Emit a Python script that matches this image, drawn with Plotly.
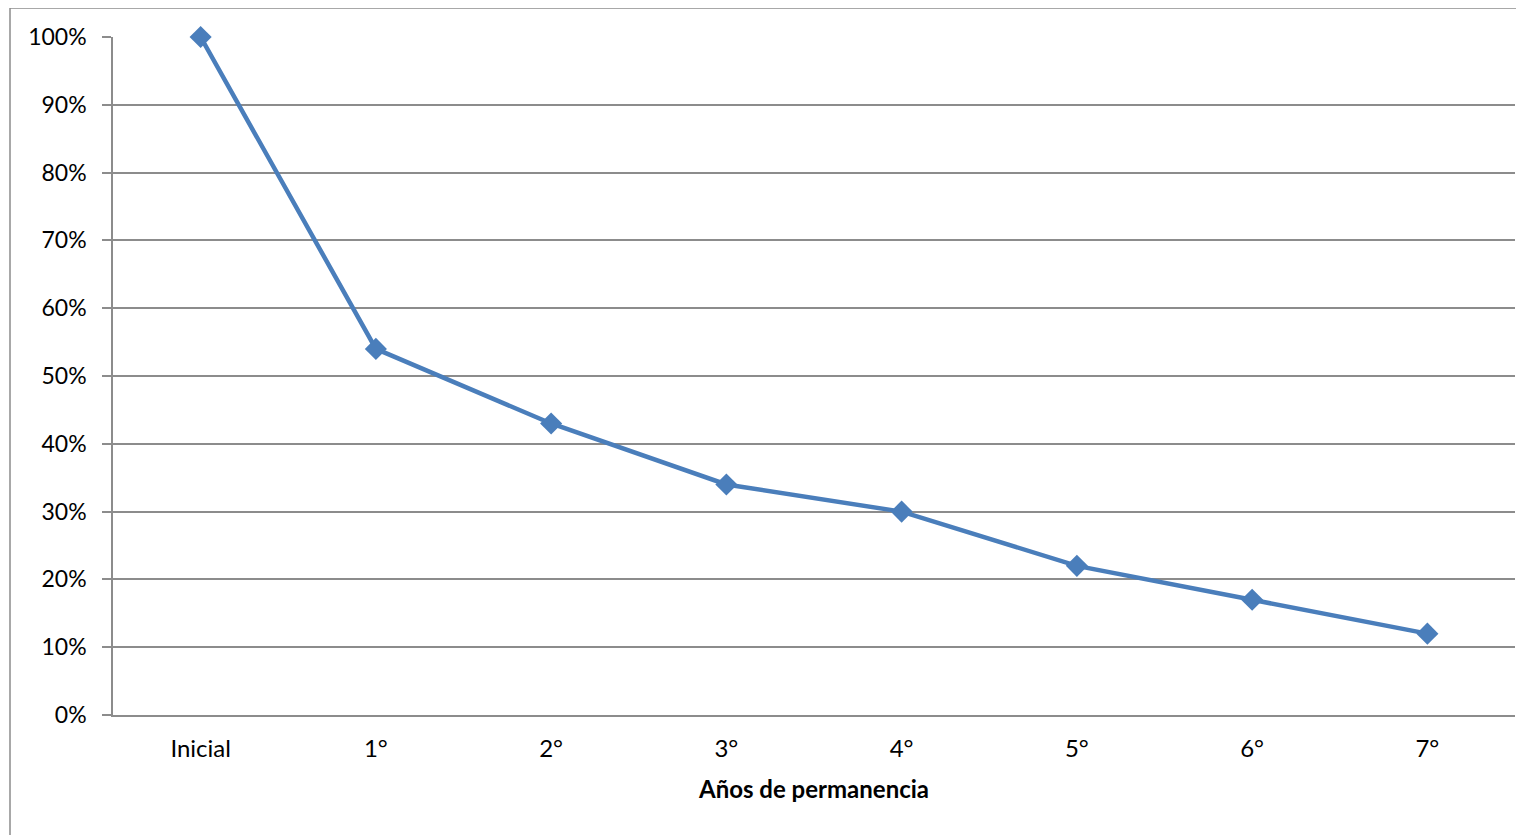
import plotly.graph_objects as go

categories = ["Inicial", "1°", "2°", "3°", "4°", "5°", "6°", "7°"]
values = [1.00, 0.54, 0.43, 0.34, 0.30, 0.22, 0.17, 0.12]
y_ticks = [0, 0.1, 0.2, 0.3, 0.4, 0.5, 0.6, 0.7, 0.8, 0.9, 1.0]
x_title = "Años de permanencia"

# page body has an 8px margin; figure placed at (8, 8)
W, H = 1516, 827
L, R, T, B = 105, 9, 29, 120
pw, ph = W - L - R, H - T - B

fig = go.Figure()
fig.add_trace(go.Scatter(
    x=list(range(len(categories))), y=values, mode="lines+markers",
    line=dict(color="#4A7EBB", width=4.5),
    marker=dict(symbol="diamond", size=17, color="#4A7EBB"),
    cliponaxis=False, showlegend=False,
))

grey = "#8C8C8C"
font = dict(family="Lato, Open Sans, sans-serif", size=23, color="#000000")

fig.update_layout(
    width=W, height=H,
    margin=dict(l=L, r=R, t=T, b=B),
    paper_bgcolor="white", plot_bgcolor="white",
    font=font,
    xaxis=dict(
        range=[-0.5, len(categories) - 0.5],
        tickmode="array", tickvals=list(range(len(categories))), ticktext=categories,
        showgrid=False, zeroline=False,
        showline=True, linecolor=grey, linewidth=1.5,
        ticks="", ticklabelstandoff=11,
        tickfont=dict(size=24),
        title=dict(text="<b>" + x_title + "</b>", standoff=21, font=dict(size=24)),
        fixedrange=True,
    ),
    yaxis=dict(
        range=[0, 1], tickmode="array", tickvals=y_ticks,
        ticktext=[f"{int(round(v*100))}%" for v in y_ticks],
        showgrid=True, gridcolor=grey, gridwidth=1.5,
        zeroline=False, showline=True, linecolor=grey, linewidth=1.5,
        ticks="outside", ticklen=9, tickcolor=grey, tickwidth=1.5,
        ticklabelstandoff=11,
        fixedrange=True,
    ),
)

# outer chart border (cropped frame)
x0 = (2 - L) / pw
y1 = (H - B - 0) / ph
fig.add_shape(type="rect", xref="paper", yref="paper",
              x0=x0, x1=1.2, y0=-0.5, y1=y1,
              line=dict(color="#8C8C8C", width=1.5), fillcolor="rgba(0,0,0,0)", layer="below")

fig.write_html("out.html")
